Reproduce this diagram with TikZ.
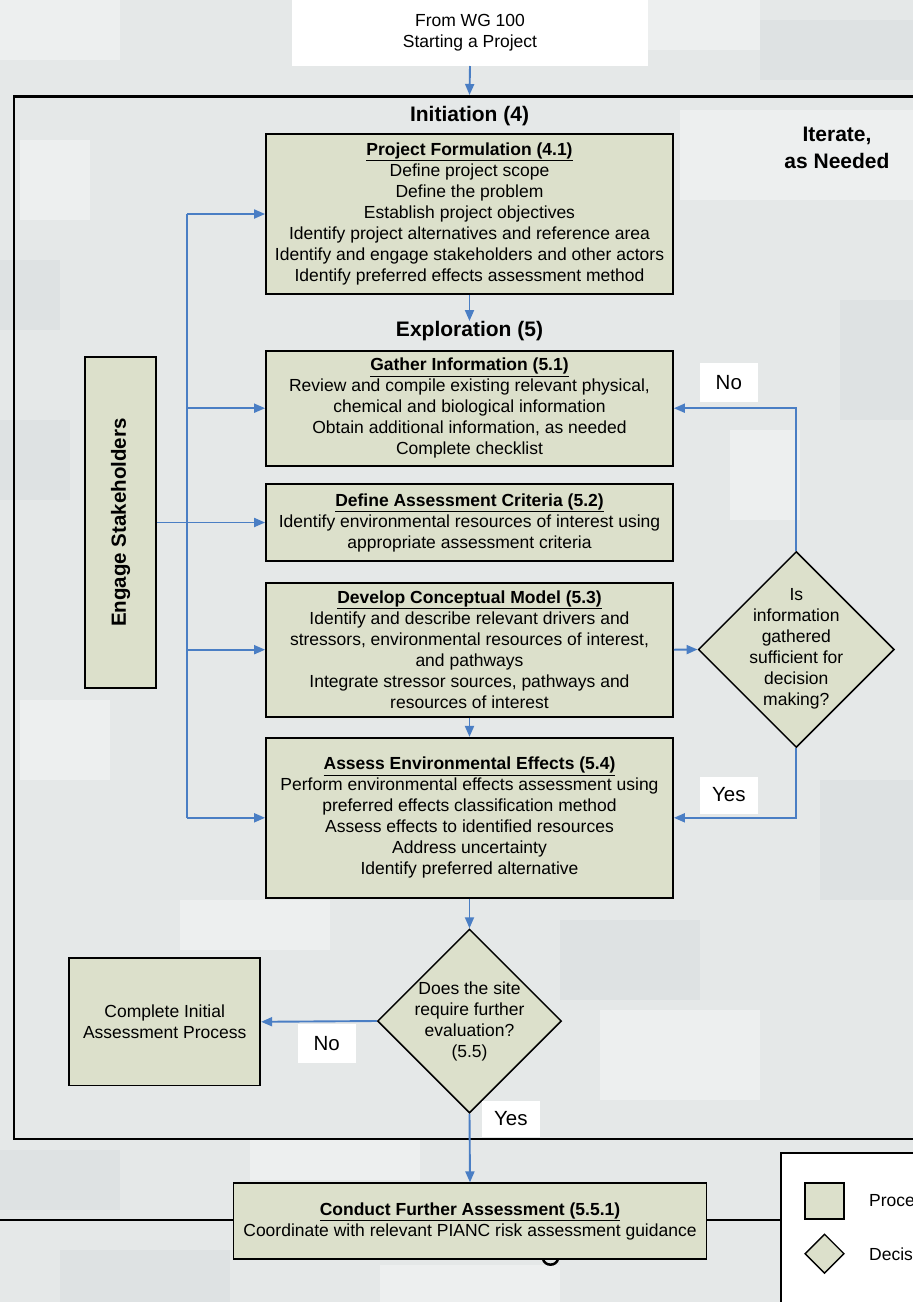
\documentclass[tikz,border=0pt]{standalone}
\usepackage{fontspec}
\setmainfont{Liberation Sans}
\usetikzlibrary{shapes.geometric,arrows.meta,calc}
\definecolor{boxfill}{RGB}{220,224,203}
\definecolor{arrowblue}{RGB}{74,126,196}
\definecolor{bgbase}{RGB}{229,232,232}
\definecolor{bglight}{RGB}{237,239,239}
\definecolor{bgdark}{RGB}{222,226,227}
\begin{document}
\begin{tikzpicture}[x=1pt,y=-1pt,
  bodyfont/.style={font=\fontsize{17.5}{21}\selectfont},
  proc/.style={draw=black, line width=1.8pt, fill=boxfill, align=center, inner sep=0pt, bodyfont},
  dec/.style={diamond, draw=black, line width=1.5pt, fill=boxfill, inner sep=0pt},
  dectext/.style={align=center, inner sep=0pt, bodyfont},
  conn/.style={draw=arrowblue, line width=1.9pt, -{Triangle[length=11pt,width=9pt]}},
  plainline/.style={draw=arrowblue, line width=1.9pt},
  lbl/.style={fill=white, inner sep=0pt, font=\fontsize{20.5}{22}\selectfont},
  head/.style={font=\bfseries\fontsize{21}{26.5}\selectfont, align=center, inner sep=0pt},
]
\useasboundingbox (0,0) rectangle (913,1302);
\clip (0,0) rectangle (913,1302);
% background
\fill[bgbase] (0,0) rectangle (913,1302);
\fill[bglight] (0,0) rectangle (120,60);
\fill[bglight] (640,0) rectangle (760,50);
\fill[bgdark] (760,20) rectangle (913,80);
\fill[bglight] (20,140) rectangle (90,220);
\fill[bgdark] (0,260) rectangle (60,330);
\fill[bglight] (680,110) rectangle (913,200);
\fill[bgdark] (0,420) rectangle (70,500);
\fill[bglight] (730,430) rectangle (800,520);
\fill[bgdark] (840,300) rectangle (913,420);
\fill[bglight] (20,700) rectangle (110,780);
\fill[bgdark] (820,780) rectangle (913,900);
\fill[bglight] (180,900) rectangle (330,950);
\fill[bgdark] (560,920) rectangle (700,1000);
\fill[bglight] (600,1010) rectangle (760,1100);
\fill[bgdark] (0,1150) rectangle (120,1210);
\fill[bglight] (250,1140) rectangle (420,1180);
\fill[bgdark] (60,1250) rectangle (230,1302);
\fill[bglight] (380,1265) rectangle (560,1302);

% top source box
\fill[white] (292,-5) rectangle (648,66);
\node[align=center, bodyfont, inner sep=0pt] (src) at (470,33) {From WG 100\\Starting a Project};
\coordinate (framein) at (469.5,95);

% big frame
\draw[line width=2.8pt] (925,96.5) -- (14,96.5) -- (14,1139) -- (925,1139);

% headings
\node[head] (init) at (469.5,116.5) {Initiation (4)};
\node[head] (iter) at (837,148) {Iterate,\\as Needed};
\node[head] (expl) at (469.5,331) {Exploration (5)};

% process boxes
\node[proc, minimum width=407, minimum height=160] (pf) at (469.5,214)
 {\underline{\textbf{Project Formulation (4.1)}}\\Define project scope\\Define the problem\\Establish project objectives\\Identify project alternatives and reference area\\Identify and engage stakeholders and other actors\\Identify preferred effects assessment method};
\node[proc, minimum width=407, minimum height=115] (gi) at (469.5,408.2)
 {\underline{\textbf{Gather Information (5.1)}}\\Review and compile existing relevant physical,\\chemical and biological information\\Obtain additional information, as needed\\Complete checklist};
\node[proc, minimum width=407, minimum height=77] (dac) at (469.5,522.5)
 {\underline{\textbf{Define Assessment Criteria (5.2)}}\\Identify environmental resources of interest using\\appropriate assessment criteria};
\node[proc, minimum width=407, minimum height=134] (dcm) at (469.5,649.7)
 {\underline{\textbf{Develop Conceptual Model (5.3)}}\\Identify and describe relevant drivers and\\stressors, environmental resources of interest,\\and pathways\\Integrate stressor sources, pathways and\\resources of interest};
\node[proc, minimum width=407, minimum height=160] (ae) at (469.5,817.8)
 {\underline{\textbf{Assess Environmental Effects (5.4)}}\\Perform environmental effects assessment using\\preferred effects classification method\\Assess effects to identified resources\\Address uncertainty\\Identify preferred alternative};
\node[proc, minimum width=71, minimum height=331] (eng) at (120.5,522.5)
 {\rotatebox{90}{\bfseries\fontsize{20.5}{22}\selectfont Engage Stakeholders}};
\node[proc, minimum width=191, minimum height=127.5] (cia) at (164.7,1021.8)
 {Complete Initial\\Assessment Process};

% decisions
\node[dec, minimum width=196, minimum height=196] (d1) at (796.3,649.5) {};
\node[dectext] (d1t) at (796.3,649.2) {Is\\information\\gathered\\sufficient for\\decision\\making?};
\node[dec, minimum width=184, minimum height=184] (d2) at (469.5,1021) {};
\node[dectext] (d2t) at (469.5,1021.5) {Does the site\\require further\\evaluation?\\(5.5)};

% bus from Engage Stakeholders
\coordinate (b1) at (187.3,214);
\coordinate (b2) at (187.3,408.2);
\coordinate (b3) at (187.3,522.5);
\coordinate (b4) at (187.3,649.7);
\coordinate (b5) at (187.3,817.8);
\draw[plainline] (b1) -- (b5);
\draw[plainline] (eng.east |- b3) -- (b3);
\draw[conn] (b1) -- (pf.west);
\draw[conn] (b2) -- (gi.west);
\draw[conn] (b3) -- (dac.west);
\draw[conn] (b4) -- (dcm.west);
\draw[conn] (b5) -- (ae.west);

% main flow
\draw[conn] (src.south |- 0,66) -- (framein);
\draw[conn] (pf.south) -- (expl.north);
\draw[conn] (dcm.south) -- (ae.north);
\draw[conn] (ae.south) -- (d2.north);
\draw[conn] (dcm.east) -- (d1.west);
\draw[conn] (d1.north) -- (d1.north |- gi.east) -- (gi.east);
\draw[conn] (d1.south) -- (d1.south |- ae.east) -- (ae.east);
\draw[conn] (d2.west) -- (cia.east);

% lower box and legend
\node[draw=black, line width=1.8pt, fill=white, minimum width=160, minimum height=170, anchor=north west, inner sep=0pt] (legend) at (780,1152.3) {};
\draw[line width=2.5pt, line cap=round] (543,1259) .. controls (544.5,1266.5) and (556.5,1266.5) .. (558,1259);
\node[proc, minimum width=473, minimum height=76] (cfa) at (470,1221.3)
 {\underline{\textbf{Conduct Further Assessment (5.5.1)}}\\Coordinate with relevant PIANC risk assessment guidance};
\draw[conn] (d2.south) -- (cfa.north);
\draw[line width=2pt] (0,1219.5) -- (cfa.west |- 0,1219.5);
\draw[line width=2pt] (cfa.east |- 0,1219.5) -- (legend.west |- 0,1219.5);
\node[proc, minimum width=39, minimum height=36] (lgproc) at (824.2,1200.9) {};
\node[dec, minimum width=39.5, minimum height=39.5, line width=1.4pt] (lgdec) at (824.5,1253.7) {};
\node[anchor=west, bodyfont, inner sep=0pt] (lgproct) at (869,1201) {Process};
\node[anchor=west, bodyfont, inner sep=0pt] (lgdect) at (869,1254) {Decision};

% labels
\node[lbl, minimum width=57.5, minimum height=38.5] (no1) at (728.8,382.5) {No};
\node[lbl, minimum width=57.5, minimum height=37] (yes1) at (728.8,795) {Yes};
\node[lbl, minimum width=58, minimum height=38.5] (no2) at (326.7,1043.3) {No};
\node[lbl, minimum width=58, minimum height=35.5] (yes2) at (510.8,1118.8) {Yes};
\end{tikzpicture}
\end{document}
